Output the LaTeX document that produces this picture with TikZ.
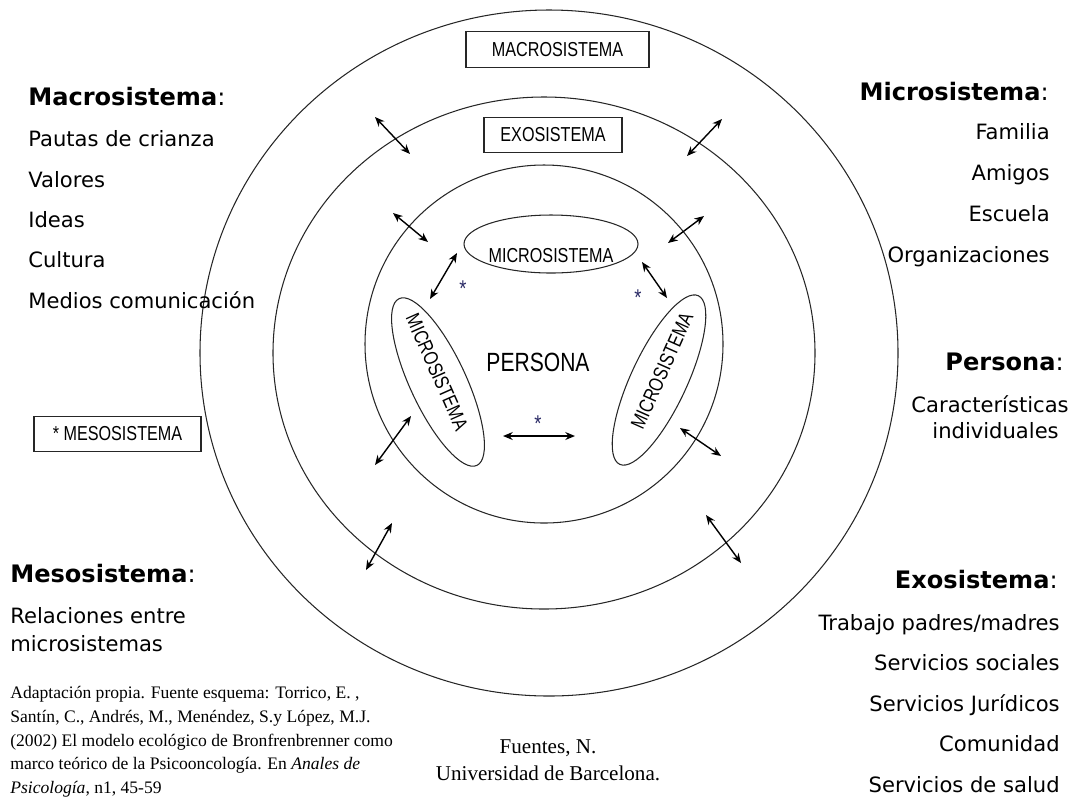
\documentclass[tikz,border=0pt]{standalone}
\usepackage{fontspec}
\usepackage{tikz}
\usetikzlibrary{arrows.meta}
\usepackage{xcolor}
\newfontfamily\sidefont{DejaVu Sans}
\newfontfamily\boxfont[FakeStretch=0.8]{Liberation Sans}
\newfontfamily\citefont{Liberation Serif}
\definecolor{starblue}{RGB}{40,40,100}

\tikzset{
	ring/.style={draw=black!85, line width=0.6pt},
	titlebox/.style={draw=black!85, line width=0.6pt, inner sep=0pt, minimum height=0.71cm, font=\boxfont\fontsize{11.5}{13}\selectfont},
	microtext/.style={inner sep=0pt, font=\boxfont\fontsize{11.5}{13}\selectfont},
	heading/.style={inner sep=0pt, font=\sidefont\fontsize{13.7}{16}\selectfont},
	sidetext/.style={inner sep=0pt, font=\sidefont\fontsize{12}{14}\selectfont},
	link/.style={{Stealth[length=5.5pt,width=4.5pt]}-{Stealth[length=5.5pt,width=4.5pt]}, line width=0.8pt},
	star/.style={inner sep=0pt, text=starblue, font=\boxfont\fontsize{13}{14}\selectfont}
}

\begin{document}
\begin{tikzpicture}[x=0.02cm, y=-0.02cm]
		\useasboundingbox (0,0) rectangle (1074,796);

		\draw[ring] (549,353) ellipse [x radius=349, y radius=343];
		\draw[ring] (544,353) ellipse [x radius=271, y radius=256];
		\draw[ring] (544,344) circle [radius=179];

		\draw[ring] (551,244) ellipse [x radius=87, y radius=29];
		\draw[ring, rotate around={-65:(438,382)}] (438,382) ellipse [x radius=92, y radius=28];
		\draw[ring, rotate around={65:(659,380)}] (659,380) ellipse [x radius=93, y radius=28];

		\node[titlebox, minimum width=3.66cm] (macro) at (557.5,49.5) {MACROSISTEMA};
		\node[titlebox, minimum width=2.76cm] (exo) at (553,135) {EXOSISTEMA};
		\node[titlebox, minimum width=3.34cm] (meso) at (117.5,434) {* MESOSISTEMA};

		\node[microtext] (micro1) at (551,256) {MICROSISTEMA};
		\node[microtext, rotate=-66] (micro2) at (437,372) {MICROSISTEMA};
		\node[microtext, rotate=66] (micro3) at (662,371) {MICROSISTEMA};
		\node[microtext, font=\boxfont\fontsize{15}{17}\selectfont] (persona) at (538,362) {PERSONA};

		\node[star] (s1) at (463,289) {*};
		\node[star] (s2) at (638,298) {*};
		\node[star] (s3) at (538,424) {*};

		\coordinate (a1) at (375,117); \coordinate (b1) at (410,154); \draw[link] (a1) -- (b1);
		\coordinate (a2) at (722,119); \coordinate (b2) at (687,156); \draw[link] (a2) -- (b2);
		\coordinate (a3) at (393,213); \coordinate (b3) at (428,242); \draw[link] (a3) -- (b3);
		\coordinate (a4) at (704,216); \coordinate (b4) at (668,243); \draw[link] (a4) -- (b4);
		\coordinate (a5) at (457,253); \coordinate (b5) at (430,299); \draw[link] (a5) -- (b5);
		\coordinate (a6) at (642,262); \coordinate (b6) at (667,298); \draw[link] (a6) -- (b6);
		\coordinate (a7) at (503,436); \coordinate (b7) at (575,436); \draw[link] (a7) -- (b7);
		\coordinate (a8) at (411,416); \coordinate (b8) at (375,465); \draw[link] (a8) -- (b8);
		\coordinate (a9) at (680,428); \coordinate (b9) at (721,456); \draw[link] (a9) -- (b9);
		\coordinate (a10) at (392,523); \coordinate (b10) at (366,570); \draw[link] (a10) -- (b10);
		\coordinate (a11) at (706,515); \coordinate (b11) at (741,563); \draw[link] (a11) -- (b11);

		\node[heading, anchor=base west] (hmacro) at (28,105) {\textbf{Macrosistema}:};
		\foreach \t [count=\i] in {Pautas de crianza, Valores, Ideas, Cultura, Medios comunicación}
			\node[sidetext, anchor=base west] (lmacro\i) at (28,106.6+40.3*\i) {\t};

		\node[heading, anchor=base east] (hmicro) at (1049,100) {\textbf{Microsistema}:};
		\foreach \t [count=\i] in {Familia, Amigos, Escuela, Organizaciones}
			\node[sidetext, anchor=base east] (lmicro\i) at (1050,99+40.8*\i) {\t};

		\node[heading, anchor=base east] (hpers) at (1064,370) {\textbf{Persona}:};
		\node[sidetext, anchor=base east] (lpers1) at (1069,412) {Características};
		\node[sidetext, anchor=base east] (lpers2) at (1059,438) {individuales};

		\node[heading, anchor=base west] (hmeso) at (10,582) {\textbf{Mesosistema}:};
		\node[sidetext, anchor=base west] (lmeso1) at (10,623) {Relaciones entre};
		\node[sidetext, anchor=base west] (lmeso2) at (10,651) {microsistemas};

		\node[heading, anchor=base east] (hexo) at (1058,588) {\textbf{Exosistema}:};
		\foreach \t [count=\i] in {Trabajo padres/madres, Servicios sociales, Servicios Jurídicos, Comunidad, Servicios de salud}
			\node[sidetext, anchor=base east] (lexo\i) at (1060,589.5+40.5*\i) {\t};

		\node[anchor=north west, align=left, inner sep=0pt, font=\citefont\fontsize{10}{13.5}\selectfont] (cite) at (10,686)
			{Adaptación propia. Fuente esquema: Torrico, E. ,\\
			Santín, C., Andrés, M., Menéndez, S.y López, M.J.\\
			(2002) El modelo ecológico de Bronfrenbrenner como\\
			marco teórico de la Psicooncología. En \textit{Anales de}\\
			\textit{Psicología}, n1, 45-59};

		\node[align=center, inner sep=0pt, font=\citefont\fontsize{12}{15.4}\selectfont] (author) at (548,760)
			{Fuentes, N.\\ Universidad de Barcelona.};
	\end{tikzpicture}
\end{document}
